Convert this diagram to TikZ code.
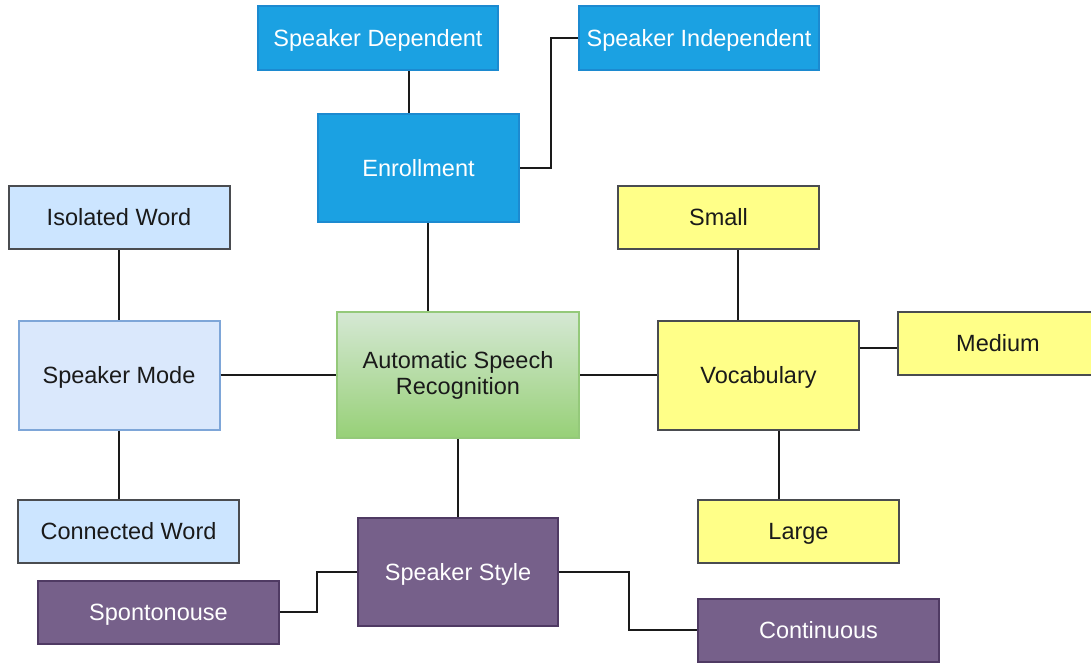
\documentclass[tikz,border=0pt]{standalone}
\usepackage{fontspec}
\setmainfont{Liberation Sans}
\definecolor{bluefill}{HTML}{1BA1E2}
\definecolor{bluedraw}{HTML}{1C8AD0}
\definecolor{paleblue}{HTML}{CCE5FF}
\definecolor{modefill}{HTML}{DAE8FC}
\definecolor{modedraw}{HTML}{7EA6D8}
\definecolor{greentop}{HTML}{D5E8D4}
\definecolor{greenbot}{HTML}{97D077}
\definecolor{greendraw}{HTML}{94C97A}
\definecolor{yellowfill}{HTML}{FFFF88}
\definecolor{purplefill}{HTML}{76608A}
\definecolor{purpledraw}{HTML}{4F3A63}
\definecolor{greydraw}{HTML}{4A4C50}
\definecolor{ink}{HTML}{1A1A1A}
\tikzset{
  boxbase/.style={draw, line width=2pt, rectangle, inner sep=0pt, align=center,
    font=\fontsize{23.5}{27}\selectfont, text=ink},
  box/.style={boxbase, text height=16.9pt, text depth=0pt},
  bluebox/.style={box, fill=bluefill, draw=bluedraw, text=white},
  palebox/.style={box, fill=paleblue, draw=greydraw},
  modebox/.style={box, fill=modefill, draw=modedraw},
  greenbox/.style={boxbase, top color=greentop, bottom color=greenbot, draw=greendraw},
  yellowbox/.style={box, fill=yellowfill, draw=greydraw},
  purplebox/.style={box, fill=purplefill, draw=purpledraw, text=white},
  link/.style={draw=ink, line width=2pt}
}
\begin{document}
\begin{tikzpicture}[x=1pt, y=-1pt]
\useasboundingbox (0,0) rectangle (1091,662);

% enrollment branch
\node[bluebox, minimum width=240pt, minimum height=64pt] (sdep) at (378,38) {Speaker Dependent};
\node[bluebox, minimum width=240pt, minimum height=64pt] (sind) at (699,38) {Speaker Independent};
\node[bluebox, minimum width=201pt, minimum height=108pt] (enr) at (418.5,168) {Enrollment};

% speaker mode branch
\node[palebox, minimum width=221pt, minimum height=63pt] (iso) at (119,217.5) {Isolated Word};
\node[modebox, minimum width=201pt, minimum height=109pt] (smode) at (119,375) {Speaker Mode};
\node[palebox, minimum width=221pt, minimum height=63pt] (conn) at (128.5,531.5) {Connected Word};

% centre
\node[greenbox, minimum width=242pt, minimum height=126pt] (asr) at (458,375)
  {\raisebox{-3pt}{\shortstack{Automatic Speech\\[1pt]Recognition}}};

% vocabulary branch
\node[yellowbox, minimum width=201pt, minimum height=63pt] (small) at (718.5,217.5) {Small};
\node[yellowbox, minimum width=201pt, minimum height=109pt] (voc) at (758.5,375) {Vocabulary};
\node[yellowbox, minimum width=200pt, minimum height=63pt] (med) at (998,343.5) {Medium};
\node[yellowbox, minimum width=201pt, minimum height=63pt] (large) at (798.5,531.5) {Large};

% speaker style branch
\node[purplebox, minimum width=200pt, minimum height=108pt] (sstyle) at (458,572) {Speaker Style};
\node[purplebox, minimum width=241pt, minimum height=63pt] (spont) at (158.5,612) {Spontonouse};
\node[purplebox, minimum width=241pt, minimum height=63pt] (cont) at (818.5,630) {Continuous};

% connectors
\draw[link] ([xshift=31pt]sdep.south) -- ([xshift=31pt]sdep.south |- enr.north);
\draw[link] (enr.east) -- ++(31,0) |- (sind.west);
\draw[link] ([xshift=9.5pt]enr.south) -- ([xshift=9.5pt]enr.south |- asr.north);

\draw[link] (iso.south) -- (smode.north);
\draw[link] (smode.south) -- (smode.south |- conn.north);
\draw[link] (smode.east) -- (smode.east -| asr.west);

\draw[link] (asr.east) -- (asr.east -| voc.west);
\draw[link] ([xshift=19.5pt]small.south) -- ([xshift=19.5pt]small.south |- voc.north);
\draw[link] ([yshift=-4.5pt]med.west -| voc.east) -- ([yshift=-4.5pt]med.west);
\draw[link] ([xshift=20.5pt]voc.south) -- ([xshift=20.5pt]voc.south |- large.north);

\draw[link] (asr.south) -- (sstyle.north);
\draw[link] (sstyle.west) -- ++(-40,0) |- (spont.east);
\draw[link] (sstyle.east) -- ++(70,0) |- (cont.west);
\end{tikzpicture}
\end{document}
